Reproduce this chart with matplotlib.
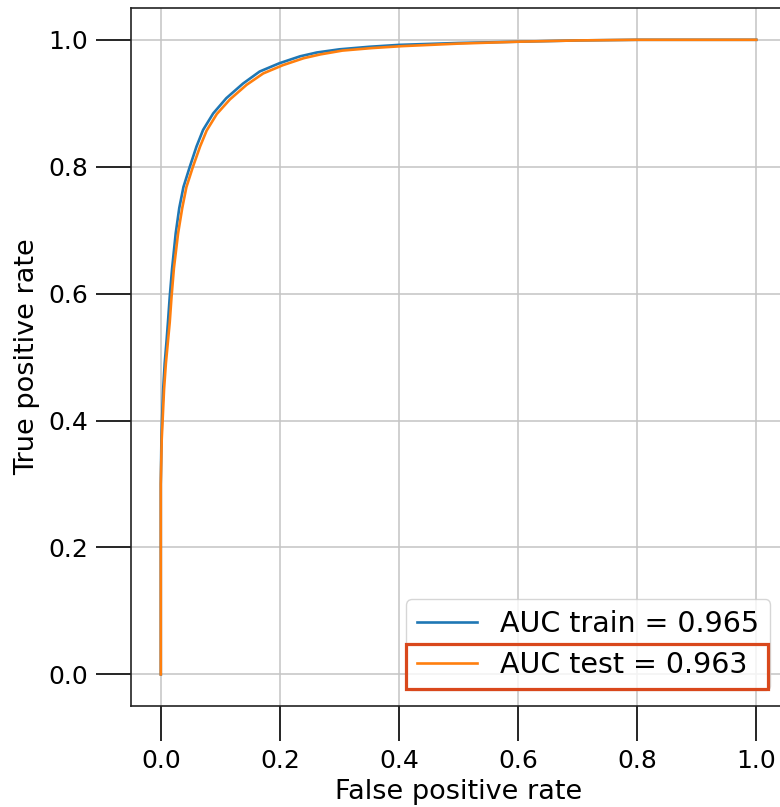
import matplotlib
matplotlib.use("Agg")
import matplotlib.pyplot as plt
from matplotlib.patches import Rectangle

# ROC points
fpr_train = [0.0, 0.0, 0.001, 0.002, 0.004, 0.0065, 0.0096, 0.012, 0.015, 0.019,
             0.025, 0.031, 0.038, 0.0487, 0.060, 0.071, 0.088, 0.110, 0.138,
             0.166, 0.199, 0.234, 0.262, 0.300, 0.350, 0.400, 0.500, 0.600,
             0.700, 0.800, 1.0]
tpr_train = [0.0, 0.30, 0.37, 0.40, 0.45, 0.49, 0.525, 0.555, 0.595, 0.64,
             0.695, 0.735, 0.768, 0.800, 0.832, 0.858, 0.884, 0.908, 0.931,
             0.950, 0.963, 0.974, 0.980, 0.985, 0.989, 0.992, 0.995, 0.997,
             0.999, 1.0, 1.0]

fpr_test = [0.0, 0.0, 0.0015, 0.003, 0.0055, 0.0085, 0.012, 0.015, 0.018, 0.022,
            0.029, 0.036, 0.043, 0.054, 0.066, 0.077, 0.094, 0.116, 0.144,
            0.172, 0.205, 0.240, 0.268, 0.305, 0.355, 0.405, 0.500, 0.600,
            0.700, 0.800, 1.0]
tpr_test = [0.0, 0.30, 0.37, 0.40, 0.45, 0.49, 0.525, 0.555, 0.595, 0.64,
            0.695, 0.735, 0.768, 0.800, 0.832, 0.857, 0.883, 0.906, 0.929,
            0.947, 0.960, 0.971, 0.977, 0.983, 0.987, 0.990, 0.994, 0.997,
            0.999, 1.0, 1.0]

auc_train = 0.965
auc_test = 0.963
ticks = [0.0, 0.2, 0.4, 0.6, 0.8, 1.0]

fig = plt.figure(figsize=(7.8, 8.07), dpi=100)
# axes run a little past the right edge, like the cropped original
ax = fig.add_axes([0.168, 0.125, 0.8397, 0.865])

ax.plot(fpr_train, tpr_train, color="#1f77b4", lw=1.9,
        label=f"AUC train = {auc_train}")
ax.plot(fpr_test, tpr_test, color="#ff7f0e", lw=1.9,
        label=f"AUC test = {auc_test}")

ax.set_xlim(-0.05, 1.05)
ax.set_ylim(-0.05, 1.05)
ax.set_xticks(ticks)
ax.set_yticks(ticks)
ax.grid(True, color="#c4c4c4", lw=1.1)
ax.set_axisbelow(True)
ax.tick_params(labelsize=18, length=25, width=1.2, pad=6)
for s in ax.spines.values():
    s.set_linewidth(1.2)
    s.set_color("#222222")

ax.set_xlabel("False positive rate", fontsize=19.5, labelpad=4)
ax.set_ylabel("True positive rate", fontsize=19.5, labelpad=6)

leg = ax.legend(loc="lower right", fontsize=20.5, handlelength=2.1,
                handletextpad=0.8, borderaxespad=0.55, labelspacing=0.45)

# red highlight box round the test entry (lower half of the legend)
fig.canvas.draw()
frame = leg.get_frame().get_window_extent()
t0 = leg.get_texts()[0].get_window_extent()
t1 = leg.get_texts()[1].get_window_extent()
x0 = frame.x0
x1 = frame.x1 - 2
y0 = frame.y0 + 1
y1 = (t0.y0 + t1.y1) / 2 + 1
fig.patches.append(Rectangle((x0, y0), x1 - x0, y1 - y0, fill=False,
                             edgecolor="#d9481c", lw=2.3, zorder=10,
                             transform=None, figure=fig))

fig.savefig("out.png", dpi=100)
